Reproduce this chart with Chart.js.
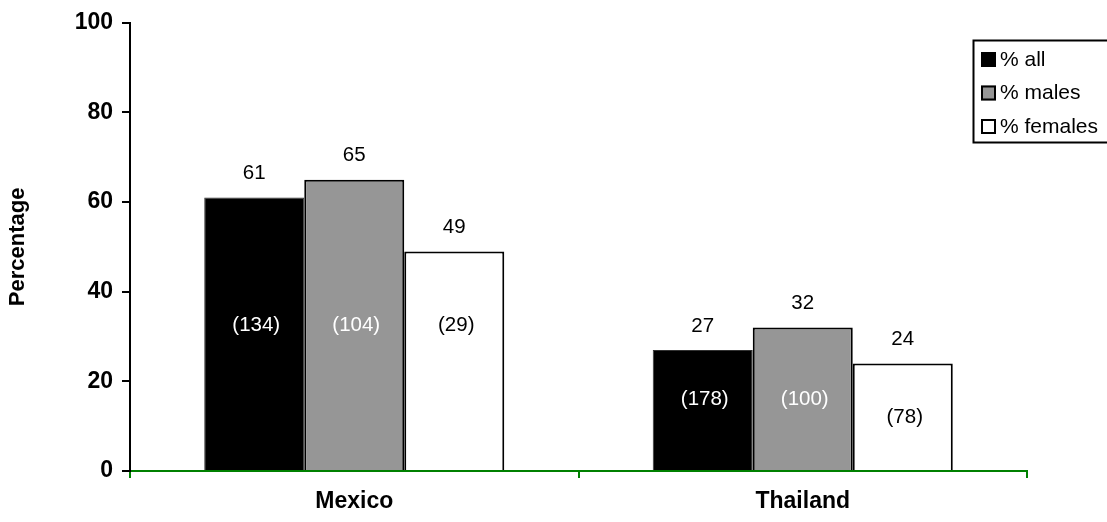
<!DOCTYPE html>
<html>
<head>
<meta charset="utf-8">
<script src="https://cdn.jsdelivr.net/npm/chart.js@4.4.1/dist/chart.umd.min.js"></script>
<style>
  html, body { margin: 0; padding: 0; background: #fff; }
  #wrap { width: 1107px; height: 522px; position: relative; }
</style>
</head>
<body>
<div id="wrap"><canvas id="c" width="1107" height="522"></canvas></div>
<script>
// Countries and series
const countries = ['Mexico', 'Thailand'];
const seriesNames = ['% all', '% males', '% females'];
const pctAll = [61, 27];
const pctMales = [65, 32];
const pctFemales = [49, 24];
// Sample sizes shown in brackets inside the bars
const nAll = [134, 178];
const nMales = [104, 100];
const nFemales = [29, 78];
const yTicks = [0, 20, 40, 60, 80, 100];

const FONT = '"Liberation Sans", Arial, sans-serif';

// Vertical level (in percentage units) at which each bracketed count sits
const countLabelLevels = [[32.5, 32.5, 32.5], [16, 16, 12]];

const seriesStyle = [
  { bg: '#000000', border: '#333333', text: '#ffffff' },
  { bg: '#969696', border: '#000000', text: '#ffffff' },
  { bg: '#ffffff', border: '#000000', text: '#000000' }
];

const values = [pctAll, pctMales, pctFemales];
const counts = [nAll, nMales, nFemales];

const datasets = seriesNames.map((name, i) => ({
  label: name,
  data: values[i],
  backgroundColor: seriesStyle[i].bg,
  borderColor: seriesStyle[i].border,
  borderWidth: i === 0 ? 1 : 2,
  borderSkipped: 'bottom',
  barPercentage: 1.0,
  categoryPercentage: 0.669
}));

const labelPlugin = {
  id: 'barLabels',
  afterDatasetsDraw(chart) {
    const ctx = chart.ctx;
    const yScale = chart.scales.y;
    ctx.save();
    ctx.textAlign = 'center';
    ctx.textBaseline = 'middle';
    ctx.font = '20.5px ' + FONT;
    chart.data.datasets.forEach((ds, di) => {
      const meta = chart.getDatasetMeta(di);
      meta.data.forEach((bar, ci) => {
        // value above the bar
        ctx.fillStyle = '#000';
        ctx.fillText(String(ds.data[ci]), bar.x, bar.y - 24);
        // count inside the bar
        ctx.fillStyle = seriesStyle[di].text;
        const ly = yScale.getPixelForValue(countLabelLevels[ci][di]);
        ctx.fillText('(' + counts[di][ci] + ')', bar.x + 2, ly);
      });
    });
    ctx.restore();
  },
  afterDraw(chart) {
    // boxed legend at the top right
    const ctx = chart.ctx;
    const box = { x: 973.5, y: 40.5, w: 140, h: 102 };
    ctx.save();
    ctx.fillStyle = '#fff';
    ctx.fillRect(box.x, box.y, box.w, box.h);
    ctx.strokeStyle = '#000';
    ctx.lineWidth = 2;
    ctx.strokeRect(box.x, box.y, box.w, box.h);
    ctx.font = '21px ' + FONT;
    ctx.textAlign = 'left';
    ctx.textBaseline = 'middle';
    chart.data.datasets.forEach((ds, i) => {
      const cy = box.y + 18.5 + i * 33.5;
      ctx.fillStyle = seriesStyle[i].bg;
      ctx.fillRect(981, cy - 7, 15, 15);
      ctx.strokeStyle = '#000';
      ctx.lineWidth = 2;
      ctx.strokeRect(982, cy - 6, 13, 13);
      ctx.fillStyle = '#000';
      ctx.fillText(ds.label, 1000, cy + 1);
    });
    ctx.restore();
  }
};

new Chart(document.getElementById('c'), {
  type: 'bar',
  data: { labels: countries, datasets },
  options: {
    responsive: false,
    animation: false,
    devicePixelRatio: 1,
    layout: { padding: { top: 17, right: 80, left: 0, bottom: 0 } },
    plugins: {
      legend: { display: false },
      tooltip: { enabled: false },
      title: { display: false }
    },
    scales: {
      x: {
        offset: true,
        grid: {
          display: true,
          offset: true,
          drawOnChartArea: false,
          drawTicks: true,
          tickLength: 7,
          color: '#008000',
          lineWidth: 2
        },
        border: { display: true, color: '#008000', width: 2 },
        ticks: {
          color: '#000',
          padding: 10,
          font: { family: FONT, size: 23, weight: 'bold' }
        },
        afterFit(s) { s.height = 51; }
      },
      y: {
        min: 0,
        max: 100,
        afterBuildTicks(s) { s.ticks = yTicks.map(v => ({ value: v })); },
        grid: {
          display: true,
          drawOnChartArea: false,
          drawTicks: true,
          tickLength: 8,
          color: '#000',
          lineWidth: 2
        },
        border: { display: true, color: '#000', width: 2 },
        ticks: {
          color: '#000',
          padding: 9,
          font: { family: FONT, size: 23, weight: 'bold' }
        },
        title: {
          display: true,
          text: 'Percentage',
          color: '#000',
          padding: { top: 5, bottom: 0 },
          font: { family: FONT, size: 22, weight: 'bold' }
        },
        afterFit(s) { s.width = 130; }
      }
    }
  },
  plugins: [labelPlugin]
});
</script>
</body>
</html>
